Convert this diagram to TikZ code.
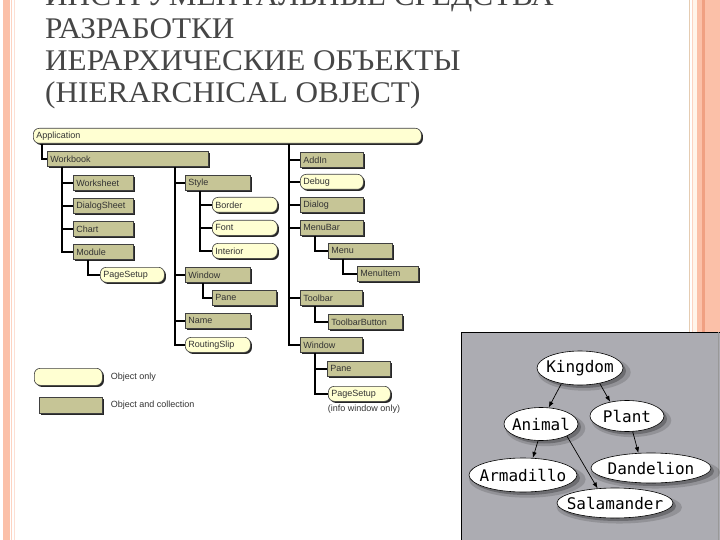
\documentclass[tikz,border=0pt]{standalone}
\usepackage{fontspec}
\setmainfont{Liberation Serif}
\setsansfont{Liberation Sans}
\setmonofont{DejaVu Sans Mono}
\newfontfamily\titlefont{Liberation Serif}[FakeStretch=1.04]
\usetikzlibrary{positioning,shapes.geometric,shadows,arrows.meta}

\definecolor{khaki}{RGB}{198,197,150}
\definecolor{cream}{RGB}{255,255,210}
\definecolor{peach}{RGB}{251,192,168}
\definecolor{peachdark}{RGB}{240,160,130}
\definecolor{panel}{RGB}{172,172,178}
\definecolor{titlegray}{RGB}{70,70,70}

\tikzset{
  box/.style={anchor=north west, draw=black!75, line width=0.6pt,
    inner xsep=3pt, inner ysep=0pt, minimum height=15pt,
    text width=#1, align=left, text=black!80,
    font=\sffamily\fontsize{9}{9}\selectfont,
    general shadow={fill=black!85, shadow xshift=1.6pt, shadow yshift=-1.6pt}},
  coll/.style={box=#1, fill=khaki},
  obj/.style={box=#1, fill=cream, rounded corners=6pt},
  link/.style={line width=1.8pt},
  lbl/.style={font=\sffamily\fontsize{9}{9}\selectfont, text=black!80, inner sep=0pt},
  ttl/.style={anchor=base west, inner sep=0pt, text=titlegray, font=\titlefont\fontsize{30}{30}\selectfont},
  gv/.style={ellipse, draw=black, line width=0.6pt, fill=white, inner sep=0pt,
    font=\ttfamily\fontsize{16}{16}\selectfont,
    general shadow={fill=black, opacity=.15, shadow xshift=4pt, shadow yshift=-4pt, shadow scale=1.08},
    general shadow={fill=black, opacity=.25, shadow xshift=3pt, shadow yshift=-3pt}},
  gvedge/.style={-{Latex[length=6pt,width=4.5pt]}, line width=0.7pt}
}

\begin{document}
\begin{tikzpicture}[x=1pt,y=-1pt]
  \useasboundingbox (0,0) rectangle (720,540);
  \fill[white] (0,0) rectangle (720,540);

  % рамка слайда
  \fill[peach] (3,0) rectangle (10,540);
  \draw[peach!70, line width=0.8pt] (11.5,0) -- (11.5,540);
  \draw[peach!50, line width=0.8pt] (14,0) -- (14,540);
  \draw[brown!40, line width=0.8pt] (689,0) -- (689,540);
  \draw[peach!70, line width=0.8pt] (692,0) -- (692,540);
  \fill[orange!8] (693,0) rectangle (697,540);
  \fill[peach] (697,0) rectangle (720,540);
  \fill[peachdark] (702,0) rectangle (705,540);

  % заголовок
  \node[ttl] (t1) at (45,6) {ИНСТРУМЕНТАЛЬНЫЕ СРЕДСТВА};
  \node[ttl] (t2) at (45,39) {РАЗРАБОТКИ};
  \node[ttl] (t3) at (45,71) {ИЕРАРХИЧЕСКИЕ ОБЪЕКТЫ};
  \node[ttl] (t4) at (45,103) {(HIERARCHICAL OBJECT)};

  % объекты
  \node[obj=382pt] (app) at (33,128) {Application};
  \node[coll=155pt] (workbook) at (47,151) {Workbook};

  \node[coll=54pt] (worksheet) at (73,175) {Worksheet};
  \node[coll=54pt] (dialogsheet) at (73,198) {DialogSheet};
  \node[coll=54pt] (chart) at (73,221) {Chart};
  \node[coll=54pt] (module) at (73,244) {Module};
  \node[obj=58pt] (pagesetup) at (100,267) {PageSetup};

  \node[coll=59pt] (style) at (185,175) {Style};
  \node[obj=59pt] (border) at (212,197) {Border};
  \node[obj=59pt] (font) at (212,220) {Font};
  \node[obj=59pt] (interior) at (212,243) {Interior};
  \node[coll=59pt] (window) at (185,267) {Window};
  \node[coll=58pt] (pane) at (212,290) {Pane};
  \node[coll=59pt] (name) at (185,313) {Name};
  \node[obj=59pt] (routingslip) at (185,337) {RoutingSlip};

  \node[coll=57pt] (addin) at (300,152) {AddIn};
  \node[obj=57pt] (debug) at (300,174) {Debug};
  \node[coll=57pt] (dialog) at (300,197) {Dialog};
  \node[coll=57pt] (menubar) at (300,220) {MenuBar};
  \node[coll=58pt] (menu) at (328,243) {Menu};
  \node[coll=55pt] (menuitem) at (357,266) {MenuItem};
  \node[coll=56pt] (toolbar) at (300,290) {Toolbar};
  \node[coll=68pt] (toolbarbutton) at (328,314) {ToolbarButton};
  \node[coll=56pt] (window2) at (300,337) {Window};
  \node[coll=57pt] (pane2) at (327,361) {Pane};
  \node[obj=56pt] (pagesetup2) at (328,386) {PageSetup};
  \node[lbl, anchor=north] (infonote) at (364,405) {(info window only)};

  % легенда
  \node[obj=62pt, minimum height=17pt] (legobj) at (34,368) {};
  \node[coll=57pt, minimum height=16pt] (legcoll) at (39,397) {};
  \node[lbl, right=8pt of legobj] (legobjtxt) {Object only};
  \node[lbl, right=8pt of legcoll] (legcolltxt) {Object and collection};

  % связи
  \coordinate (trunkL) at ([xshift=15pt]workbook.south west);
  \coordinate (trunkM) at ([xshift=128pt]workbook.south west);
  \coordinate (trunkS) at ([xshift=15pt]style.south west);
  \coordinate (trunkR) at ([xshift=256pt]app.south west);
  \coordinate (trunkW) at ([xshift=15pt]window2.south west);

  \draw[link] ([xshift=9pt]app.south west) |- (workbook.west);
  \draw[link] (trunkL) |- (module.west);
  \foreach \n in {worksheet,dialogsheet,chart}
    \draw[link] (trunkL |- \n.west) -- (\n.west);
  \draw[link] ([xshift=15pt]module.south west) |- (pagesetup.west);

  \draw[link] (trunkM) |- (routingslip.west);
  \foreach \n in {style,window,name}
    \draw[link] (trunkM |- \n.west) -- (\n.west);
  \draw[link] (trunkS) |- (interior.west);
  \foreach \n in {border,font}
    \draw[link] (trunkS |- \n.west) -- (\n.west);
  \draw[link] ([xshift=18pt]window.south west) |- (pane.west);

  \draw[link] (trunkR) |- (window2.west);
  \foreach \n in {addin,debug,dialog,menubar,toolbar}
    \draw[link] (trunkR |- \n.west) -- (\n.west);
  \draw[link] ([xshift=15pt]menubar.south west) |- (menu.west);
  \draw[link] ([xshift=15pt]menu.south west) |- (menuitem.west);
  \draw[link] ([xshift=15pt]toolbar.south west) |- (toolbarbutton.west);
  \draw[link] (trunkW) |- (pagesetup2.west);
  \draw[link] (trunkW |- pane2.west) -- (pane2.west);

  % дерево graphviz
  \fill[panel] (461,332) rectangle (720,540);
  \draw[black, line width=1pt] (720,332) -- (461,332) -- (461,540);
  \draw[black!40, line width=0.8pt] (718,332) -- (718,540);

  \node[gv, minimum width=86pt, minimum height=34pt] (kingdom) at (580,368) {\makebox[0pt]{Kingdom}};
  \node[gv, minimum width=74pt, minimum height=33pt] (animal) at (541,424) {\makebox[0pt]{Animal}};
  \node[gv, minimum width=74pt, minimum height=31pt] (plant) at (627,416) {\makebox[0pt]{Plant}};
  \node[gv, minimum width=108pt, minimum height=34pt] (armadillo) at (523,475) {\makebox[0pt]{Armadillo}};
  \node[gv, minimum width=120pt, minimum height=30pt] (dandelion) at (651,468) {\makebox[0pt]{Dandelion}};
  \node[gv, minimum width=116pt, minimum height=30pt] (salamander) at (615,503) {\makebox[0pt]{Salamander}};

  \draw[gvedge] (kingdom.220) -- (animal.65);
  \draw[gvedge] (kingdom.-38) -- (plant.140);
  \draw[gvedge] (animal.-100) -- (armadillo.60);
  \draw[gvedge] (animal.-25) -- (salamander.140);
  \draw[gvedge] (plant.-70) -- (dandelion.130);
\end{tikzpicture}
\end{document}
